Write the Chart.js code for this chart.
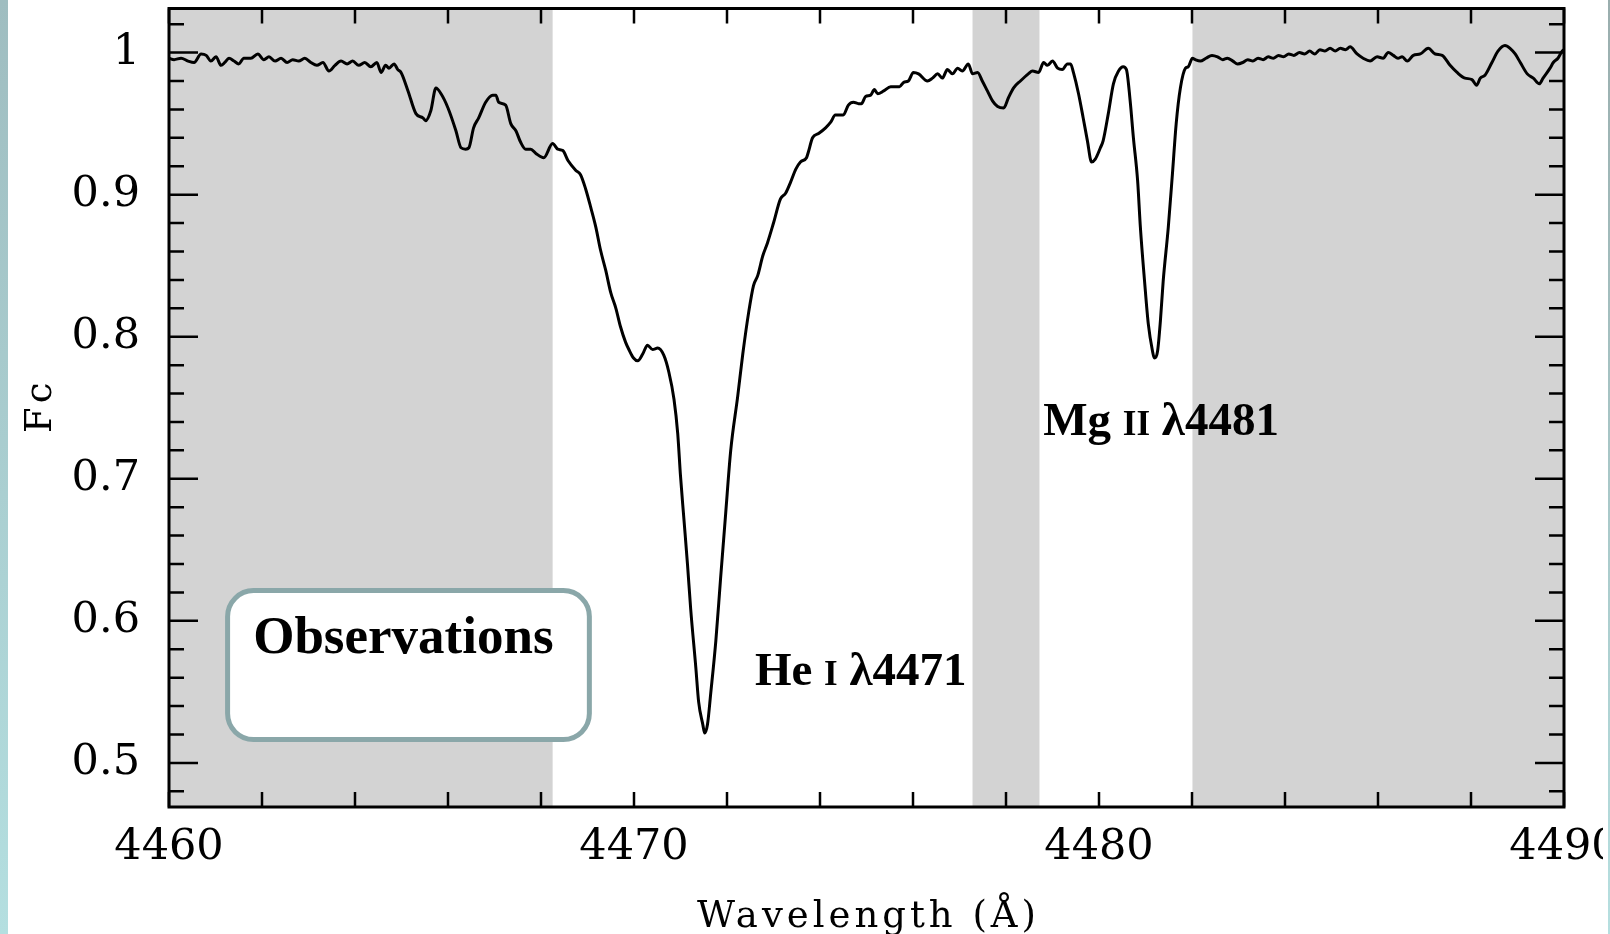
<!DOCTYPE html>
<html>
<head>
<meta charset="utf-8">
<title>He I 4471 / Mg II 4481</title>
<script src="https://cdn.jsdelivr.net/npm/chart.js@4.4.1/dist/chart.umd.min.js"></script>
<style>
  html, body { margin: 0; padding: 0; background: #fff; }
  #lienzo { position: absolute; left: 0; top: 0; width: 1603px; height: 934px; overflow: hidden; }
  #espectro { position: absolute; left: 0; top: 0; }
  .franja { position: absolute; top: 0; height: 934px; }
  #franjaIzq { left: 0; width: 8px; background: linear-gradient(#9fbdc0, #b4dfe0); }
  #franjaDer { left: 1608px; width: 2px; background: linear-gradient(#9aaeae, #b6dfe0); }
</style>
</head>
<body>
<div id="lienzo"><canvas id="espectro" width="1680" height="934"></canvas></div>
<div class="franja" id="franjaIzq"></div>
<div class="franja" id="franjaDer"></div>
<script>
// Espectro observado (longitud de onda en Å, flujo normalizado)
var longitudes = [
    4460.00, 4460.11, 4460.26, 4460.41, 4460.54, 4460.69, 4460.80, 4460.90, 4461.01, 4461.12,
    4461.20, 4461.29, 4461.40, 4461.50, 4461.61, 4461.76, 4461.91, 4462.04, 4462.15, 4462.28,
    4462.41, 4462.54, 4462.66, 4462.79, 4462.92, 4463.05, 4463.18, 4463.31, 4463.44, 4463.57,
    4463.70, 4463.83, 4463.95, 4464.08, 4464.21, 4464.34, 4464.47, 4464.56, 4464.66, 4464.73,
    4464.84, 4464.92, 4464.99, 4465.14, 4465.31, 4465.46, 4465.52, 4465.63, 4465.74, 4465.85,
    4466.00, 4466.17, 4466.28, 4466.38, 4466.45, 4466.55, 4466.66, 4466.81, 4466.96, 4467.03,
    4467.09, 4467.24, 4467.35, 4467.46, 4467.56, 4467.67, 4467.78, 4467.89, 4468.06, 4468.25,
    4468.36, 4468.47, 4468.58, 4468.75, 4468.85, 4468.96, 4469.07, 4469.18, 4469.28, 4469.39,
    4469.50, 4469.61, 4469.71, 4469.82, 4469.89, 4469.99, 4470.08, 4470.19, 4470.29, 4470.40,
    4470.51, 4470.64, 4470.75, 4470.86, 4470.94, 4471.00, 4471.07, 4471.15, 4471.22, 4471.33,
    4471.39, 4471.48, 4471.52, 4471.58, 4471.65, 4471.76, 4471.86, 4471.97, 4472.08, 4472.23,
    4472.34, 4472.47, 4472.57, 4472.66, 4472.77, 4472.87, 4473.00, 4473.15, 4473.26, 4473.37,
    4473.48, 4473.58, 4473.71, 4473.75, 4473.84, 4473.97, 4474.12, 4474.23, 4474.33, 4474.44,
    4474.50, 4474.61, 4474.72, 4474.83, 4474.89, 4474.98, 4475.09, 4475.17, 4475.24, 4475.37,
    4475.52, 4475.62, 4475.71, 4475.80, 4475.90, 4476.01, 4476.12, 4476.31, 4476.42, 4476.53,
    4476.63, 4476.74, 4476.85, 4476.96, 4477.06, 4477.19, 4477.28, 4477.39, 4477.49, 4477.60,
    4477.71, 4477.82, 4477.95, 4478.05, 4478.16, 4478.31, 4478.48, 4478.57, 4478.70, 4478.81,
    4478.89, 4479.00, 4479.11, 4479.21, 4479.32, 4479.39, 4479.45, 4479.56, 4479.66, 4479.75,
    4479.84, 4479.92, 4480.03, 4480.09, 4480.20, 4480.31, 4480.42, 4480.52, 4480.59, 4480.67,
    4480.74, 4480.83, 4480.89, 4480.98, 4481.06, 4481.15, 4481.19, 4481.26, 4481.32, 4481.38,
    4481.49, 4481.58, 4481.66, 4481.75, 4481.86, 4481.92, 4482.01, 4482.07, 4482.18, 4482.30,
    4482.43, 4482.55, 4482.66, 4482.76, 4482.88, 4482.98, 4483.09, 4483.20, 4483.31, 4483.42,
    4483.53, 4483.64, 4483.75, 4483.86, 4483.97, 4484.08, 4484.19, 4484.31, 4484.42, 4484.53,
    4484.64, 4484.75, 4484.86, 4484.97, 4485.08, 4485.19, 4485.30, 4485.40, 4485.55, 4485.68,
    4485.83, 4485.98, 4486.11, 4486.22, 4486.33, 4486.43, 4486.52, 4486.63, 4486.76, 4486.91,
    4487.08, 4487.23, 4487.38, 4487.55, 4487.70, 4487.87, 4488.02, 4488.12, 4488.20, 4488.30,
    4488.45, 4488.58, 4488.73, 4488.84, 4488.95, 4489.06, 4489.21, 4489.34, 4489.47, 4489.55,
    4489.70, 4489.77, 4489.87, 4489.96, 4490.00
];

var flujo = [
    0.996, 0.995, 0.996, 0.994, 0.993, 0.999, 0.998, 0.994, 0.997, 0.991,
    0.993, 0.996, 0.994, 0.992, 0.996, 0.996, 0.999, 0.995, 0.997, 0.994,
    0.996, 0.993, 0.995, 0.994, 0.996, 0.993, 0.991, 0.993, 0.987, 0.991,
    0.994, 0.992, 0.994, 0.991, 0.993, 0.990, 0.993, 0.986, 0.991, 0.989,
    0.992, 0.988, 0.986, 0.973, 0.957, 0.954, 0.952, 0.959, 0.975, 0.971,
    0.961, 0.945, 0.933, 0.932, 0.933, 0.947, 0.954, 0.965, 0.970, 0.970,
    0.965, 0.963, 0.950, 0.945, 0.937, 0.932, 0.932, 0.929, 0.926, 0.936,
    0.932, 0.931, 0.924, 0.917, 0.914, 0.904, 0.891, 0.877, 0.861, 0.847,
    0.831, 0.820, 0.807, 0.796, 0.791, 0.785, 0.783, 0.788, 0.794, 0.791,
    0.792, 0.787, 0.775, 0.756, 0.732, 0.702, 0.673, 0.640, 0.608, 0.567,
    0.543, 0.527, 0.521, 0.527, 0.549, 0.586, 0.629, 0.675, 0.720, 0.758,
    0.788, 0.818, 0.836, 0.843, 0.857, 0.866, 0.880, 0.897, 0.901, 0.909,
    0.918, 0.923, 0.926, 0.930, 0.940, 0.943, 0.947, 0.951, 0.956, 0.956,
    0.956, 0.963, 0.965, 0.964, 0.964, 0.969, 0.970, 0.974, 0.971, 0.973,
    0.976, 0.976, 0.976, 0.979, 0.980, 0.986, 0.985, 0.980, 0.982, 0.985,
    0.982, 0.988, 0.985, 0.989, 0.987, 0.992, 0.985, 0.986, 0.980, 0.973,
    0.966, 0.962, 0.961, 0.968, 0.975, 0.980, 0.985, 0.987, 0.986, 0.993,
    0.991, 0.994, 0.989, 0.988, 0.992, 0.992, 0.986, 0.971, 0.954, 0.938,
    0.923, 0.925, 0.933, 0.938, 0.957, 0.978, 0.987, 0.990, 0.988, 0.966,
    0.940, 0.910, 0.877, 0.839, 0.809, 0.790, 0.785, 0.790, 0.811, 0.839,
    0.877, 0.915, 0.950, 0.975, 0.989, 0.990, 0.996, 0.995, 0.994, 0.996,
    0.998, 0.997, 0.995, 0.996, 0.994, 0.992, 0.993, 0.995, 0.994, 0.996,
    0.995, 0.997, 0.996, 0.998, 0.997, 0.999, 0.998, 1.000, 0.999, 1.001,
    0.999, 1.002, 1.001, 1.003, 1.001, 1.003, 1.002, 1.004, 0.999, 0.996,
    0.994, 0.997, 0.996, 1.000, 0.998, 0.996, 0.997, 0.994, 0.998, 0.999,
    1.003, 0.999, 0.998, 0.991, 0.986, 0.982, 0.981, 0.977, 0.982, 0.984,
    0.993, 1.001, 1.005, 1.003, 0.999, 0.993, 0.985, 0.982, 0.978, 0.982,
    0.989, 0.993, 0.996, 1.001, 1.002
];

// Ejes: marcas cada 2 Å y cada 0.02, etiquetas cada 10 Å y cada 0.1
var marcasX = [4460, 4462, 4464, 4466, 4468, 4470, 4472, 4474, 4476, 4478, 4480, 4482, 4484, 4486, 4488, 4490];
var etiquetasX = [4460, 4470, 4480, 4490];
var marcasY = [0.48, 0.50, 0.52, 0.54, 0.56, 0.58, 0.60, 0.62, 0.64, 0.66, 0.68, 0.70, 0.72, 0.74,
               0.76, 0.78, 0.80, 0.82, 0.84, 0.86, 0.88, 0.90, 0.92, 0.94, 0.96, 0.98, 1.00, 1.02];
var etiquetasY = [0.5, 0.6, 0.7, 0.8, 0.9, 1];

// Zonas de continuo sombreadas
var bandasInicio = [4460, 4477.28, 4482.01];
var bandasFin = [4468.25, 4478.72, 4490];

// Rótulos de las líneas (posición en unidades de los ejes)
var rotuloHe = { x: 4472.60, y: 0.5548, partes: [['He ', 47], ['I', 35], [' λ4471', 47]] };
var rotuloMg = { x: 4478.80, y: 0.7308, partes: [['Mg ', 47], ['II', 35], [' λ4481', 47]] };
var caja = { x0: 4461.26, x1: 4469.04, y0: 0.6213, y1: 0.5165, texto: 'Observations', tx: 4461.81, ty: 0.5774 };

function esEtiqueta(lista, v) {
    for (let i = 0; i < lista.length; i++) {
        if (Math.abs(lista[i] - v) < 1e-6) return String(lista[i]);
    }
    return '';
}

function escribirPartes(ctx, partes, x, y) {
    partes.forEach(function (p) {
        ctx.font = 'bold ' + p[1] + 'px "Liberation Serif"';
        ctx.fillText(p[0], x, y);
        x += ctx.measureText(p[0]).width;
    });
}

function cajaRedondeada(ctx, x0, y0, x1, y1, r) {
    ctx.beginPath();
    ctx.moveTo(x0 + r, y0);
    ctx.arcTo(x1, y0, x1, y1, r);
    ctx.arcTo(x1, y1, x0, y1, r);
    ctx.arcTo(x0, y1, x0, y0, r);
    ctx.arcTo(x0, y0, x1, y0, r);
    ctx.closePath();
}

var marco = {
    id: 'marco',
    beforeDatasetsDraw: function (chart) {
        var ctx = chart.ctx, a = chart.chartArea, xs = chart.scales.x;
        ctx.save();
        ctx.fillStyle = '#d3d3d3';
        for (let i = 0; i < bandasInicio.length; i++) {
            var x0 = xs.getPixelForValue(bandasInicio[i]);
            var x1 = xs.getPixelForValue(bandasFin[i]);
            ctx.fillRect(x0, a.top, x1 - x0, a.bottom - a.top);
        }
        ctx.restore();
    },
    afterDatasetsDraw: function (chart) {
        var ctx = chart.ctx, a = chart.chartArea, xs = chart.scales.x, ys = chart.scales.y;
        ctx.save();

        // Marco y marcas hacia dentro
        ctx.strokeStyle = '#000';
        ctx.lineWidth = 3;
        ctx.strokeRect(a.left, a.top, a.right - a.left, a.bottom - a.top);
        ctx.lineWidth = 2.5;
        ctx.beginPath();
        marcasX.forEach(function (v) {
            var px = xs.getPixelForValue(v);
            ctx.moveTo(px, a.bottom); ctx.lineTo(px, a.bottom - 15);
            ctx.moveTo(px, a.top); ctx.lineTo(px, a.top + 15);
        });
        marcasY.forEach(function (v) {
            var py = ys.getPixelForValue(v);
            var largo = esEtiqueta(etiquetasY, v) ? 29 : 15;
            ctx.moveTo(a.left, py); ctx.lineTo(a.left + largo, py);
            ctx.moveTo(a.right, py); ctx.lineTo(a.right - largo, py);
        });
        ctx.stroke();

        // Recuadro "Observations"
        cajaRedondeada(ctx, xs.getPixelForValue(caja.x0), ys.getPixelForValue(caja.y0),
                       xs.getPixelForValue(caja.x1), ys.getPixelForValue(caja.y1), 26);
        ctx.fillStyle = '#fff';
        ctx.fill();
        ctx.strokeStyle = '#8aa7a9';
        ctx.lineWidth = 5;
        ctx.stroke();

        ctx.fillStyle = '#000';
        ctx.textAlign = 'left';
        ctx.textBaseline = 'alphabetic';
        ctx.font = 'bold 53px "Liberation Serif"';
        ctx.fillText(caja.texto, xs.getPixelForValue(caja.tx), ys.getPixelForValue(caja.ty));
        escribirPartes(ctx, rotuloHe.partes, xs.getPixelForValue(rotuloHe.x), ys.getPixelForValue(rotuloHe.y));
        escribirPartes(ctx, rotuloMg.partes, xs.getPixelForValue(rotuloMg.x), ys.getPixelForValue(rotuloMg.y));

        // Títulos de los ejes
        ctx.font = '37px "DejaVu Serif"';
        ctx.letterSpacing = '4px';
        ctx.textAlign = 'center';
        ctx.fillText('Wavelength (Å)', (a.left + a.right) / 2 + 2, a.bottom + 120);
        ctx.translate(a.left - 118, (a.top + a.bottom) / 2);
        ctx.rotate(-Math.PI / 2);
        ctx.fillText('Fc', 2, 0);
        ctx.restore();
    }
};

var puntos = longitudes.map(function (l, i) { return { x: l, y: flujo[i] }; });

var chart = new Chart(document.getElementById('espectro'), {
    type: 'line',
    data: {
        datasets: [{
            data: puntos,
            borderColor: '#000',
            borderWidth: 3,
            pointRadius: 0,
            fill: false,
            cubicInterpolationMode: 'monotone'
        }]
    },
    options: {
        responsive: false,
        animation: false,
        events: [],
        devicePixelRatio: 1,
        layout: { padding: { left: 0, right: 116, top: 8.5, bottom: 0 } },
        plugins: { legend: { display: false }, tooltip: { enabled: false } },
        scales: {
            x: {
                type: 'linear',
                min: 4460,
                max: 4490,
                grid: { display: false, drawTicks: false },
                border: { display: false },
                afterBuildTicks: function (s) { s.ticks = marcasX.map(function (v) { return { value: v }; }); },
                afterFit: function (s) { s.height = 127; s.paddingLeft = 0; s.paddingRight = 0; },
                ticks: {
                    autoSkip: false,
                    maxRotation: 0,
                    minRotation: 0,
                    padding: 15,
                    color: '#000',
                    font: { family: 'DejaVu Serif', size: 43 },
                    callback: function (v) { return esEtiqueta(etiquetasX, v); }
                }
            },
            y: {
                min: 0.469,
                max: 1.031,
                grid: { display: false, drawTicks: false },
                border: { display: false },
                afterBuildTicks: function (s) { s.ticks = marcasY.map(function (v) { return { value: v }; }); },
                afterFit: function (s) { s.width = 169; s.paddingTop = 0; s.paddingBottom = 0; },
                ticks: {
                    autoSkip: false,
                    padding: 29,
                    color: '#000',
                    font: { family: 'DejaVu Serif', size: 43 },
                    callback: function (v) { return esEtiqueta(etiquetasY, v); }
                }
            }
        }
    },
    plugins: [marco]
});
</script>
</body>
</html>
